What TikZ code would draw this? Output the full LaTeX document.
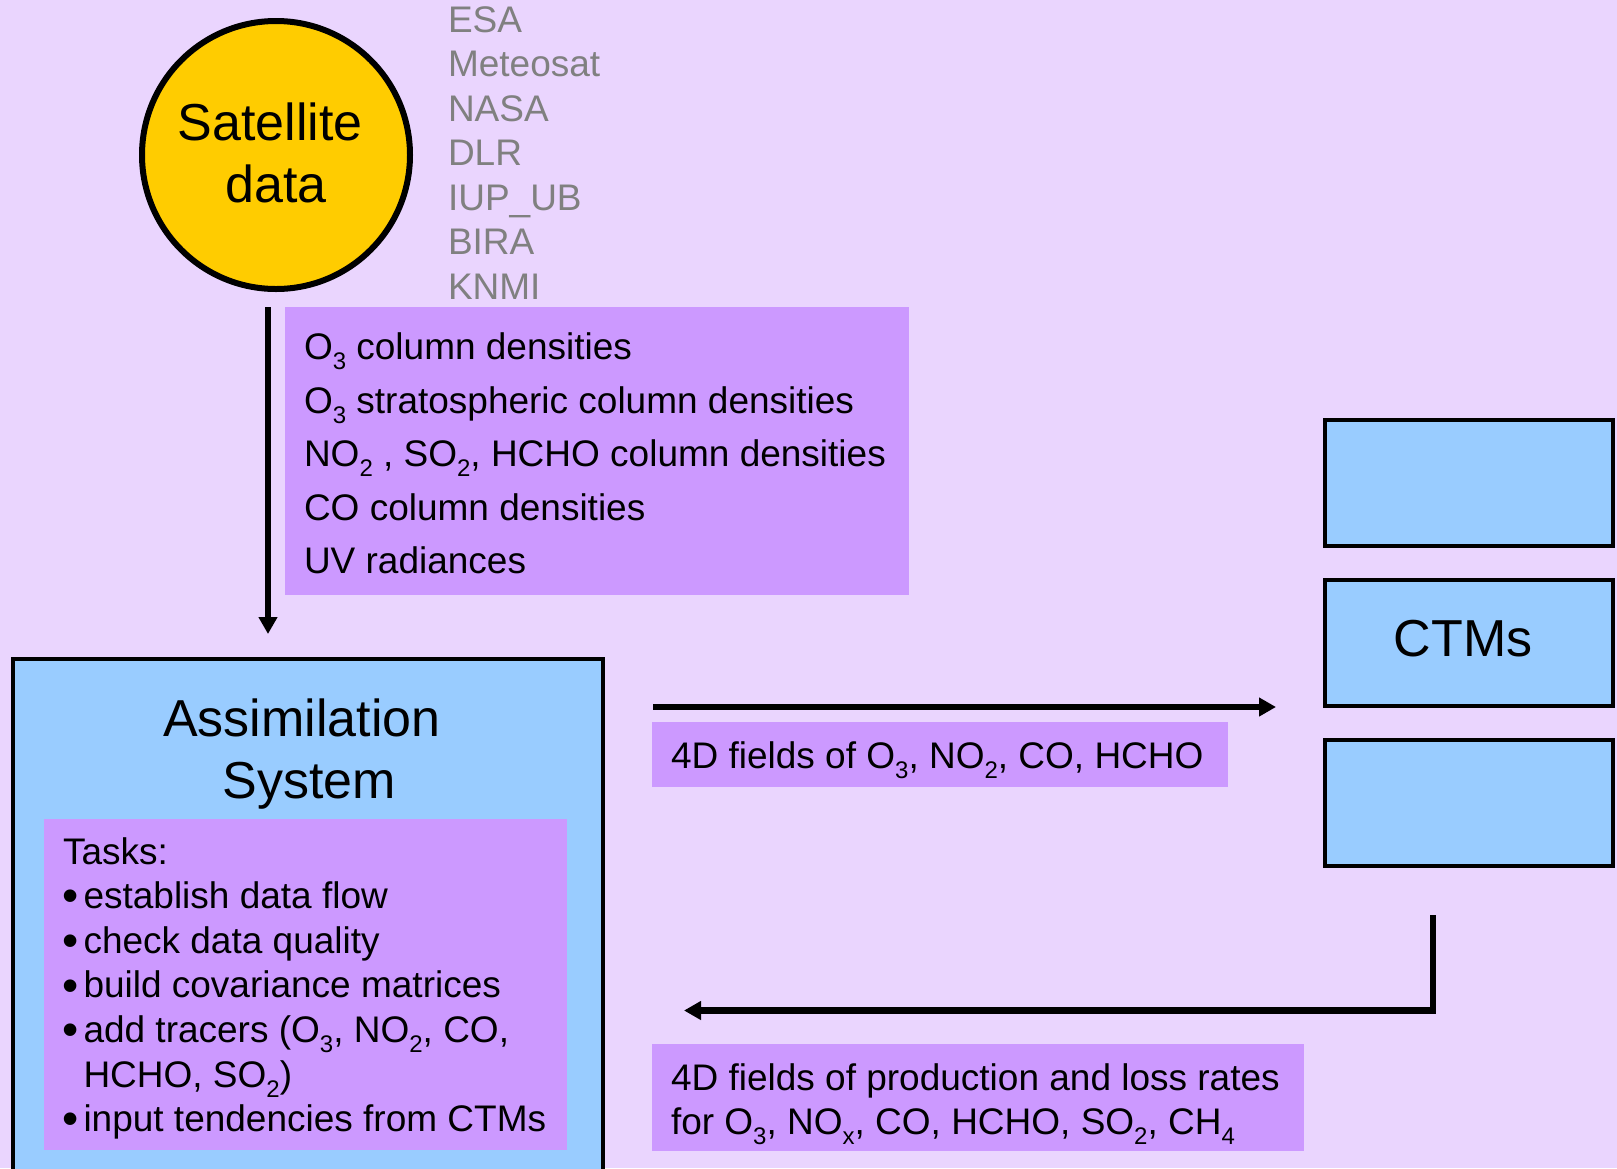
\documentclass[tikz,border=0pt]{standalone}
\usepackage{fontspec}
\setmainfont{Liberation Sans}
\usetikzlibrary{arrows.meta}
\definecolor{bgc}{RGB}{234,213,254}
\definecolor{purp}{RGB}{204,153,255}
\definecolor{blu}{RGB}{153,204,255}
\definecolor{yel}{RGB}{255,204,0}
\definecolor{gry}{RGB}{128,128,128}
\newcommand{\sbs}[1]{\raisebox{-5pt}{\fontsize{12}{12}\selectfont #1}}
\newcommand{\bul}{\raisebox{-1.6pt}{\scalebox{1.25}{\textbullet}}}
\begin{document}
\begin{tikzpicture}[x=0.5pt,y=-0.5pt,
  big/.style={font=\fontsize{26}{31}\selectfont},
  norm/.style={font=\fontsize{18.5}{22}\selectfont},
  txt/.style={norm, anchor=base west, inner sep=0pt, outer sep=0pt},
  pbox/.style={fill=purp, draw=none, anchor=north west, inner sep=0pt, outer sep=0pt},
  bbox/.style={fill=blu, draw=black, line width=2pt, anchor=north west, inner sep=0pt, outer sep=0pt},
  conn/.style={line width=3.1pt, -{Triangle[length=8.5pt,width=9pt]}},
]
\clip (0,0) rectangle (1617,1168);
\fill[bgc] (0,0) rectangle (1617,1168);

% satellite circle
\node[circle, draw=black, line width=3pt, fill=yel, minimum size=134pt, inner sep=0pt,
      big, align=center] (sat) at (276,155) {\raisebox{2pt}{\hspace*{-6pt}Satellite}\\\raisebox{2pt}{data}};

% data providers
\foreach \t [count=\i] in {ESA,Meteosat,NASA,DLR,IUP\_UB,BIRA,KNMI}
  \node[txt, text=gry] (src\i) at (448,{32.4+44.5*(\i-1)}) {\t};

% satellite products box
\node[pbox, minimum width=312pt, minimum height=144pt] (prod) at (284.6,307) {};
\node[txt] (p1) at (304,359) {O\sbs{3} column densities};
\node[txt] (p2) at (304,413) {O\sbs{3} stratospheric column densities};
\node[txt] (p3) at (304,466) {NO\sbs{2} , SO\sbs{2}, HCHO column densities};
\node[txt] (p4) at (304,520) {CO column densities};
\node[txt] (p5) at (304,573) {UV radiances};

% assimilation system
\node[bbox, minimum width=295pt, minimum height=272pt] (assim) at (13,659) {};
\node[big, inner sep=0pt, anchor=base] (at1) at (302,736) {Assimilation};
\node[big, inner sep=0pt, anchor=base] (at2) at (309,798) {System};
\node[pbox, minimum width=261.75pt, minimum height=165.5pt] (tasks) at (43.5,819) {};
\node[txt] (t0) at (63,864) {Tasks:};
\foreach \t [count=\i] in {establish data flow,check data quality,build covariance matrices,{add tracers (O\sbs{3}, NO\sbs{2}, CO,},{input tendencies from CTMs}}
{
  \pgfmathsetmacro{\yy}{\i<5 ? 864+44.6*\i : 864+44.6*6}
  \node[txt] (tb\i) at (62,\yy) {\bul};
  \node[txt] (tt\i) at (83.5,\yy) {\t};
}
\node[txt] (tt4b) at (83.5,{864+44.6*5}) {HCHO, SO\sbs{2})};

% CTM boxes
\node[bbox, minimum width=144pt, minimum height=63pt] (ctm1) at (1324.5,419.5) {};
\node[bbox, minimum width=144pt, minimum height=63pt, big] (ctm2) at (1324.5,579.5) {};
\node[big, inner sep=0pt, anchor=base] (ctmt) at (1463,656) {CTMs};
\node[bbox, minimum width=144pt, minimum height=63pt] (ctm3) at (1324.5,739.5) {};

% forward arrow and label
\coordinate (b1) at (653,707);
\coordinate (b2) at (1276,707);
\draw[conn] (b1) -- (b2);
\node[pbox, minimum width=288pt, minimum height=32.5pt] (lab1) at (652,722) {};
\node[txt] (lab1t) at (671,768.6) {4D fields of O\sbs{3}, NO\sbs{2}, CO, HCHO};

% return arrow and label
\coordinate (c1) at (1433,915);
\coordinate (c2) at (684,1010.5);
\draw[conn] (c1) |- (c2);
\node[pbox, minimum width=326pt, minimum height=53.5pt] (lab2) at (652,1044) {};
\node[txt] (lab2a) at (671,1090) {4D fields of production and loss rates};
\node[txt] (lab2b) at (671,1134) {for O\sbs{3}, NO\sbs{x}, CO, HCHO, SO\sbs{2}, CH\sbs{4}};

% satellite down arrow
\coordinate (a1) at (268,307);
\coordinate (a2) at (268,634);
\draw[conn] (a1) -- (a2);
\end{tikzpicture}
\end{document}
